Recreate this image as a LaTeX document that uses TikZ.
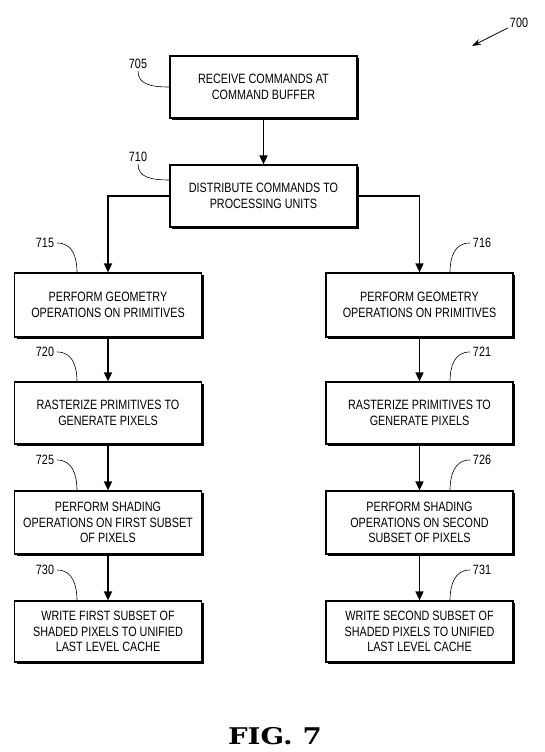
\documentclass[tikz,border=0pt]{standalone}
\usepackage{fontspec}
\setmainfont[FakeStretch=0.8]{Liberation Sans}
\newfontfamily\figfont[FakeStretch=1.2]{DejaVu Serif}
\usetikzlibrary{arrows.meta,shadows}
\begin{document}
\begin{tikzpicture}[x=1pt,y=-1pt,
  box/.style={draw,line width=1.2pt,fill=white,align=center,
    font=\fontsize{13.5}{15.5}\selectfont,inner sep=0pt,
    minimum width=187pt,
    drop shadow={shadow xshift=2.2pt,shadow yshift=-2.2pt,fill=black,opacity=1}},
  flow/.style={line width=1.6pt,-{Triangle[length=9pt,width=8pt]}},
  lead/.style={line width=0.6pt},
  lbl/.style={font=\fontsize{13.5}{15.5}\selectfont,inner sep=0pt}]
\useasboundingbox (0,0) rectangle (545,752);

\node[box,minimum height=62pt] (b705) at (263.5,87) {RECEIVE COMMANDS AT\\COMMAND BUFFER};
\node[box,minimum height=62pt] (b710) at (263.5,196) {DISTRIBUTE COMMANDS TO\\PROCESSING UNITS};
\node[box,minimum height=64pt] (b715) at (108,305) {PERFORM GEOMETRY\\OPERATIONS ON PRIMITIVES};
\node[box,minimum height=64pt] (b716) at (419.5,305) {PERFORM GEOMETRY\\OPERATIONS ON PRIMITIVES};
\node[box,minimum height=62pt] (b720) at (108,413) {RASTERIZE PRIMITIVES TO\\GENERATE PIXELS};
\node[box,minimum height=62pt] (b721) at (419.5,413) {RASTERIZE PRIMITIVES TO\\GENERATE PIXELS};
\node[box,minimum height=63pt] (b725) at (108,522.5) {PERFORM SHADING\\OPERATIONS ON FIRST SUBSET\\OF PIXELS};
\node[box,minimum height=63pt] (b726) at (419.5,522.5) {PERFORM SHADING\\OPERATIONS ON SECOND\\SUBSET OF PIXELS};
\node[box,minimum height=61pt] (b730) at (108,631.5) {WRITE FIRST SUBSET OF\\SHADED PIXELS TO UNIFIED\\LAST LEVEL CACHE};
\node[box,minimum height=61pt] (b731) at (419.5,631.5) {WRITE SECOND SUBSET OF\\SHADED PIXELS TO UNIFIED\\LAST LEVEL CACHE};

% flow arrows
\draw[flow] (b705.south) -- (b710.north);
\draw[flow] (b710.west) -| (b715.north);
\draw[flow] (b710.east) -| (b716.north);
\draw[flow] (b715.south) -- (b720.north);
\draw[flow] (b716.south) -- (b721.north);
\draw[flow] (b720.south) -- (b725.north);
\draw[flow] (b721.south) -- (b726.north);
\draw[flow] (b725.south) -- (b730.north);
\draw[flow] (b726.south) -- (b731.north);

% reference labels
\node[lbl] (l705) at (138,64) {705};
\node[lbl] (l710) at (138,157) {710};
\node[lbl] (l715) at (45,243) {715};
\node[lbl] (l716) at (482,243) {716};
\node[lbl] (l720) at (45,352) {720};
\node[lbl] (l721) at (482,352) {721};
\node[lbl] (l725) at (45,460) {725};
\node[lbl] (l726) at (482,460) {726};
\node[lbl] (l730) at (45,570) {730};
\node[lbl] (l731) at (482,570) {731};
\node[lbl] (l700) at (519,23) {700};

\coordinate (e710) at (170,180);
\coordinate (e715) at (77,273);
\coordinate (e716) at (450,273);
\coordinate (e720) at (77,382);
\coordinate (e721) at (450,382);
\coordinate (e725) at (77,491);
\coordinate (e726) at (450,491);
\coordinate (e730) at (77,601);
\coordinate (e731) at (450,601);

\draw[lead] (l705.south) ++(0,2) .. controls (138,84) and (150,87) .. (b705.west);
\draw[lead] (l710.south) ++(0,2) .. controls (138,177) and (150,180) .. (e710);
\draw[lead] (l715.east) ++(3,0) .. controls (72,243) and (77,256) .. (e715);
\draw[lead] (l716.west) ++(-3,0) .. controls (455,243) and (450,256) .. (e716);
\draw[lead] (l720.east) ++(3,0) .. controls (72,352) and (77,365) .. (e720);
\draw[lead] (l721.west) ++(-3,0) .. controls (455,352) and (450,365) .. (e721);
\draw[lead] (l725.east) ++(3,0) .. controls (72,460) and (77,474) .. (e725);
\draw[lead] (l726.west) ++(-3,0) .. controls (455,460) and (450,474) .. (e726);
\draw[lead] (l730.east) ++(3,0) .. controls (72,570) and (77,584) .. (e730);
\draw[lead] (l731.west) ++(-3,0) .. controls (455,570) and (450,584) .. (e731);

\coordinate (a700) at (472,46);
\draw[line width=0.8pt,-{Stealth[length=9pt,width=6pt]}] (l700.south west) ++(-2,0) -- (a700);

\node[font=\figfont\bfseries\fontsize{23}{26}\selectfont,inner sep=0pt] (fig) at (275,736) {FIG.\hspace{10pt}7};
\end{tikzpicture}
\end{document}
